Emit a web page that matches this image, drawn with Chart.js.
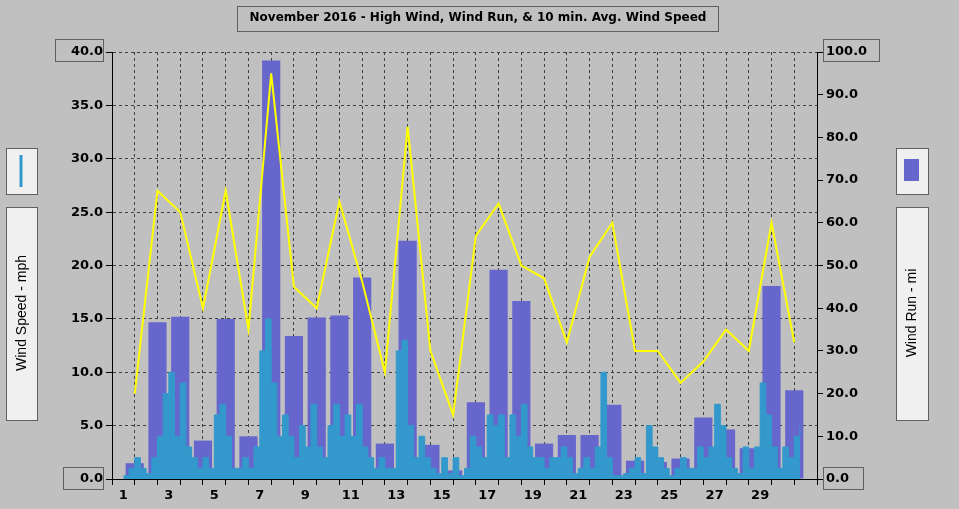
<!DOCTYPE html>
<html>
<head>
<meta charset="utf-8">
<script src="https://cdn.jsdelivr.net/npm/chart.js@4"></script>
<style>
  html, body { margin: 0; padding: 0; background: #c0c0c0; }
  #wrap { width: 959px; height: 509px; }
</style>
</head>
<body>
<div id="wrap"><canvas id="wind-chart"></canvas></div>
<script>
const days = [1,2,3,4,5,6,7,8,9,10,11,12,13,14,15,16,17,18,19,20,21,22,23,24,25,26,27,28,29,30];
// daily wind run, miles (right axis)
const windRun = [3.7,36.7,38,9,37.5,10,98,33.5,37.8,38.3,47.2,8.3,55.8,8,2,18,49,41.7,8.3,10.3,10.3,17.4,4.3,4,4.8,14.4,11.6,7.2,45.2,20.8];
// daily high wind, mph
const highWind = [8,27,25,16,27,14,38,18,16,26,18.5,10,33,12,6,22.8,25.8,20,18.8,12.8,20.8,24,12,12,9,11,14,12,24,12.8];
// average wind speed, mph, four readings per day
const avgWind = [
  0.3,1,2,1,  0.5,2,4,8,  10,4,9,3,  2,1,2,1,  6,7,4,1,  1,2,1,3,
  12,15,9,4,  6,4,2,5,  3,7,3,2,  5,7,4,6,  4,7,3,2,  1,2,1,1,
  12,13,5,2,  4,2,1,0.5,  2,0.5,2,0.3,  1,4,3,2,  6,5,6,2,  6,4,7,3,
  2,2,1,2,  2,3,2,0.5,  1,2,1,3,  10,2,0.3,0.3,  0.5,1,2,0.5,  5,3,2,1,
  0.3,1,2,1,  1,3,2,3,  7,5,2,1,  0.5,3,1,3,  9,6,3,1,  3,2,4,5
];

const runPts = days.map((d, i) => ({ x: d + 0.5, y: windRun[i] }));
const highPts = days.map((d, i) => ({ x: d + 0.5, y: highWind[i] }));
const avgPts = avgWind.map((v, i) => ({ x: 1 + i * 0.25, y: v }));

const tickFont = { family: 'DejaVu Sans', size: 13, weight: 'bold' };

function box(ctx, x, y, w, h, fill) {
  ctx.save();
  if (fill) { ctx.fillStyle = fill; ctx.fillRect(x, y, w, h); }
  ctx.strokeStyle = '#606060';
  ctx.lineWidth = 1;
  ctx.strokeRect(x + 0.5, y + 0.5, w, h);
  ctx.restore();
}

const decor = {
  id: 'decor',
  afterDraw(chart) {
    const ctx = chart.ctx;
    // title
    box(ctx, 237, 6, 481, 25, null);
    ctx.save();
    ctx.fillStyle = '#000';
    ctx.font = 'bold 12px "DejaVu Sans"';
    ctx.textAlign = 'center';
    ctx.textBaseline = 'middle';
    ctx.fillText('November 2016 - High Wind, Wind Run, & 10 min. Avg. Wind Speed', 478, 18);
    ctx.restore();
    // boxed end labels
    box(ctx, 55, 39, 48, 22, null);
    box(ctx, 63, 467, 40, 22, null);
    box(ctx, 823, 39, 56, 22, null);
    box(ctx, 823, 467, 40, 22, null);
    // left legend
    box(ctx, 6, 148, 31, 46, '#f0f0f0');
    ctx.save();
    ctx.strokeStyle = '#3399cc'; ctx.lineWidth = 3;
    ctx.beginPath(); ctx.moveTo(21, 155); ctx.lineTo(21, 187); ctx.stroke();
    ctx.restore();
    box(ctx, 6, 207, 31, 213, '#f0f0f0');
    // right legend
    box(ctx, 896, 148, 32, 46, '#f0f0f0');
    ctx.save(); ctx.fillStyle = '#6666cc'; ctx.fillRect(904, 159, 15, 22); ctx.restore();
    box(ctx, 896, 207, 32, 213, '#f0f0f0');
    ctx.save();
    ctx.fillStyle = '#000';
    ctx.font = '14px "Liberation Sans"';
    ctx.textAlign = 'center';
    ctx.textBaseline = 'middle';
    ctx.translate(22, 313); ctx.rotate(-Math.PI / 2);
    ctx.fillText('Wind Speed - mph', 0, 0);
    ctx.restore();
    ctx.save();
    ctx.fillStyle = '#000';
    ctx.font = '14px "Liberation Sans"';
    ctx.textAlign = 'center';
    ctx.textBaseline = 'middle';
    ctx.translate(912, 313); ctx.rotate(-Math.PI / 2);
    ctx.fillText('Wind Run - mi', 0, 0);
    ctx.restore();
  }
};

new Chart(document.getElementById('wind-chart'), {
  data: {
    datasets: [
      {
        type: 'line', label: 'High Wind', data: highPts, yAxisID: 'y',
        borderColor: '#ffff00', borderWidth: 2, pointRadius: 0, tension: 0, order: 0
      },
      {
        type: 'line', label: 'Avg Wind', data: avgPts, yAxisID: 'y',
        borderColor: '#3399cc', backgroundColor: '#3399cc', borderWidth: 1,
        pointRadius: 0, stepped: true, fill: 'origin', order: 1
      },
      {
        type: 'bar', label: 'Wind Run', data: runPts, yAxisID: 'y2',
        backgroundColor: '#6666cc', barPercentage: 0.8, categoryPercentage: 1, order: 2
      }
    ]
  },
  options: {
    responsive: true,
    maintainAspectRatio: false,
    animation: false,
    layout: { padding: { top: 52, left: 0, right: 0, bottom: 0 } },
    plugins: { legend: { display: false }, tooltip: { enabled: false } },
    scales: {
      x: {
        type: 'linear', min: 1, max: 31,
        afterFit: s => { s.height = 30; s.paddingLeft = 0; s.paddingRight = 0; },
        ticks: {
          stepSize: 1, autoSkip: false, maxRotation: 0, color: '#000', font: tickFont,
          callback: v => (v % 2 === 1 && v < 30) ? String(v) : ''
        },
        grid: { color: '#404040', tickColor: '#000', tickLength: 6, drawOnChartArea: true },
        border: { display: true, color: '#000', dash: [3, 3] }
      },
      y: {
        position: 'left', min: 0, max: 40,
        afterFit: s => { s.width = 112; },
        ticks: { stepSize: 5, color: '#000', font: tickFont, callback: v => v.toFixed(1) },
        grid: { color: '#404040', tickColor: '#000', tickLength: 6 },
        border: { display: true, color: '#000', dash: [3, 3] }
      },
      y2: {
        position: 'right', min: 0, max: 100,
        afterFit: s => { s.width = 142; },
        ticks: { stepSize: 10, color: '#000', font: tickFont, callback: v => v.toFixed(1) },
        grid: { drawOnChartArea: false, tickColor: '#000', tickLength: 6 },
        border: { display: true, color: '#000' }
      }
    }
  },
  plugins: [decor]
});
</script>
</body>
</html>
